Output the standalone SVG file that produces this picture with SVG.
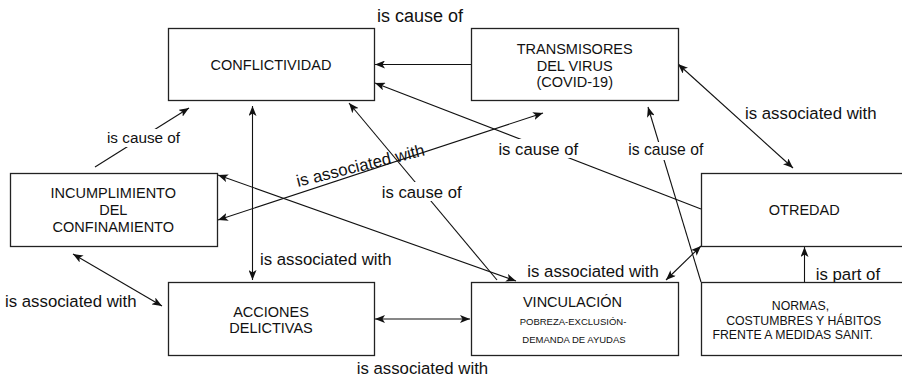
<svg xmlns="http://www.w3.org/2000/svg" width="902" height="378" viewBox="0 0 902 378">
<style>
  .box { fill: #ffffff; stroke: #222222; stroke-width: 1.3; }
  .nt { font-family: "Liberation Sans", Arial, sans-serif; font-size: 14.5px; fill: #111111; text-anchor: middle; }
  .sm { font-size: 9.5px; }
  .nm { font-size: 12.3px; }
  .edge { fill: none; stroke: #111111; stroke-width: 1.1; }
  .lbl { font-family: "Liberation Sans", Arial, sans-serif; font-size: 16.8px; fill: #111111; }
  .bg { fill: #ffffff; }
</style>
<defs>
  <marker id="arr" markerUnits="userSpaceOnUse" markerWidth="10" markerHeight="8" viewBox="0 0 10 8" refX="10" refY="4" orient="auto-start-reverse">
    <path d="M0,0 L10,4 L0,8 L2.5,4 Z" fill="#111111"/>
  </marker>
</defs>
<rect width="902" height="378" fill="#ffffff"/>

<g id="connectors">
  <path class="edge" d="M471,64.5 L375,64.5" marker-end="url(#arr)"/>
  <path class="edge" d="M701,209 L375,83" marker-end="url(#arr)"/>
  <path class="edge" d="M497,280 L349,103" marker-end="url(#arr)"/>
  <path class="edge" d="M701,282 L648,107" marker-end="url(#arr)"/>
  <path class="edge" d="M678,64 L793,168" marker-start="url(#arr)" marker-end="url(#arr)"/>
  <path class="edge" d="M218,175 L516,281" marker-start="url(#arr)" marker-end="url(#arr)"/>
  <path class="edge" d="M543,113 L218,220" marker-start="url(#arr)" marker-end="url(#arr)"/>
  <path class="edge" d="M252.5,106 L252.5,280" marker-start="url(#arr)" marker-end="url(#arr)"/>
  <path class="edge" d="M73,254 L162,306" marker-start="url(#arr)" marker-end="url(#arr)"/>
  <path class="edge" d="M375,319 L470,319" marker-start="url(#arr)" marker-end="url(#arr)"/>
  <path class="edge" d="M95,167 L189,108" marker-end="url(#arr)"/>
  <path class="edge" d="M804.5,282 L804.5,247" marker-end="url(#arr)"/>
  <path class="edge" d="M666,280 L701,246" marker-start="url(#arr)" marker-end="url(#arr)"/>

  <rect class="bg" x="107" y="129" width="73" height="18"/>
  <rect class="bg" x="498" y="139" width="80" height="19"/>
  <rect class="bg" x="380" y="182" width="83" height="19"/>
  <rect class="bg" x="628" y="142" width="75" height="18"/>

  <text class="lbl" x="420" y="22" text-anchor="middle" style="font-size:18px">is cause of</text>
  <text class="lbl" x="143.5" y="143" text-anchor="middle" style="font-size:15.3px">is cause of</text>
  <text class="lbl" x="538.3" y="155" text-anchor="middle" style="font-size:16.7px">is cause of</text>
  <text class="lbl" x="421.7" y="198" text-anchor="middle" style="font-size:16.7px">is cause of</text>
  <text class="lbl" x="665.8" y="155" text-anchor="middle" style="font-size:15.7px">is cause of</text>
  <text class="lbl" x="745" y="119.3">is associated with</text>
  <text class="lbl" x="260" y="265">is associated with</text>
  <text class="lbl" x="5" y="306.7">is associated with</text>
  <text class="lbl" x="527.3" y="277.3">is associated with</text>
  <text class="lbl" x="356.7" y="374">is associated with</text>
  <text class="lbl" x="815.7" y="280">is part of</text>
  <text class="lbl" x="298" y="187" transform="rotate(-14 298 187)">is associated with</text>
</g>

<g id="conflictividad">
  <rect class="box" x="168.5" y="28.5" width="206" height="72"/>
  <text class="nt" x="271" y="70">CONFLICTIVIDAD</text>
</g>
<g id="transmisores">
  <rect class="box" x="471.5" y="28.5" width="207" height="72"/>
  <text class="nt" x="574.7" y="53.5">TRANSMISORES</text>
  <text class="nt" x="574.7" y="70.5">DEL VIRUS</text>
  <text class="nt" x="574.7" y="87">(COVID-19)</text>
</g>
<g id="incumplimiento">
  <rect class="box" x="10.5" y="173.5" width="207" height="73"/>
  <text class="nt" x="113.3" y="198.3">INCUMPLIMIENTO</text>
  <text class="nt" x="113.3" y="215">DEL</text>
  <text class="nt" x="113.3" y="232">CONFINAMIENTO</text>
</g>
<g id="acciones">
  <rect class="box" x="168.5" y="282.5" width="206" height="73"/>
  <text class="nt" x="271" y="316.7">ACCIONES</text>
  <text class="nt" x="271" y="333.3">DELICTIVAS</text>
</g>
<g id="vinculacion">
  <rect class="box" x="471.5" y="282.5" width="207" height="73"/>
  <text class="nt" x="572.5" y="306.7">VINCULACIÓN</text>
  <text class="nt sm" x="573" y="325">POBREZA-EXCLUSIÓN-</text>
  <text class="nt sm" x="574" y="343.3">DEMANDA DE AYUDAS</text>
</g>
<g id="otredad">
  <rect class="box" x="701.5" y="173.5" width="206" height="73"/>
  <text class="nt" x="804.3" y="215">OTREDAD</text>
</g>
<g id="normas">
  <rect class="box" x="701.5" y="282.5" width="206" height="73"/>
  <text class="nt nm" x="800.5" y="310">NORMAS,</text>
  <text class="nt nm" x="803.7" y="325">COSTUMBRES Y HÁBITOS</text>
  <text class="nt nm" x="792.7" y="338.5">FRENTE A MEDIDAS SANIT.</text>
</g>
</svg>
